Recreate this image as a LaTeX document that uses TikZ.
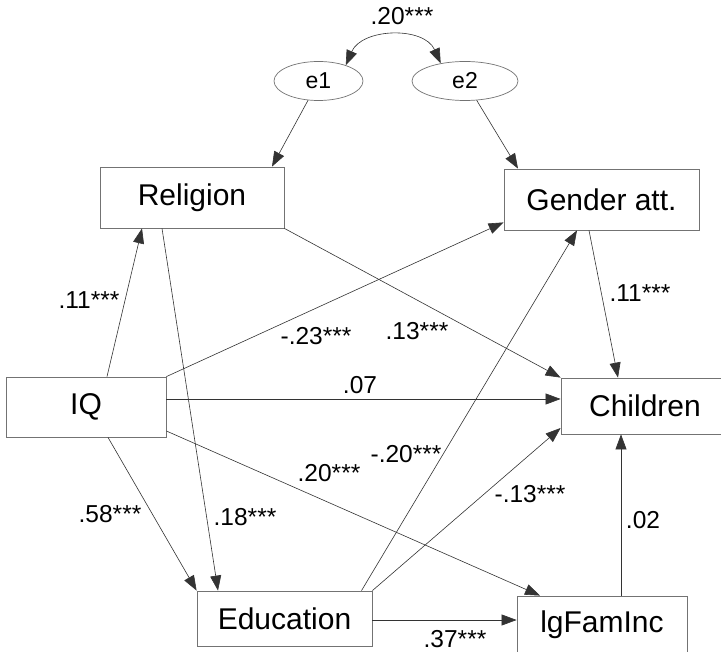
\documentclass[tikz,border=0pt]{standalone}
\usepackage{fontspec}
\setmainfont{Liberation Sans}
\usetikzlibrary{arrows.meta,shapes.geometric}
\begin{document}
\begin{tikzpicture}[x=1pt,y=-1pt,
  box/.style={draw=black!55,line width=0.8pt,rectangle,inner sep=0pt,font=\fontsize{30}{32}\selectfont},
  err/.style={draw=black!55,line width=0.7pt,ellipse,inner sep=0pt,font=\fontsize{23}{25}\selectfont},
  lab/.style={inner sep=0pt,font=\fontsize{24.5}{26}\selectfont},
  conn/.style={draw=black!80,line width=0.6pt,-{Triangle[length=15pt,width=11pt]}},
  biconn/.style={draw=black!80,line width=0.6pt,{Triangle[length=15pt,width=11pt]}-{Triangle[length=15pt,width=11pt]}}]
\useasboundingbox[fill=white] (0,0) rectangle (721,652);
% nodes
\node[box,minimum width=184pt,minimum height=61pt] (Religion) at (192,197.5) {Religion};
\node[box,minimum width=195pt,minimum height=61pt] (Gender) at (601.5,199.5) {Gender att.};
\node[box,minimum width=160pt,minimum height=60pt] (IQ) at (86,407) {IQ};
\node[box,minimum width=168pt,minimum height=56pt] (Children) at (645,406) {Children};
\node[box,minimum width=175pt,minimum height=55pt] (Education) at (284.5,618.5) {Education};
\node[box,minimum width=170pt,minimum height=58pt] (Inc) at (602,625) {lgFamInc};
\node[err,minimum width=89pt,minimum height=39pt] (e1) at (318.5,81) {e1};
\node[err,minimum width=106pt,minimum height=39pt] (e2) at (465,81) {e2};
% connectors
\draw[biconn] (e1.30) .. controls (362,28) and (424,26) .. (e2.144);
\draw[conn] (e1) -- ([xshift=80]Religion.north);
\draw[conn] (e2) -- ([xshift=-83.5]Gender.north);
\draw[conn] ([xshift=21]IQ.north) -- ([xshift=-50]Religion.south);
\draw[conn] (IQ.north east) -- ([yshift=8]Gender.south west);
\draw[conn] ([xshift=-30]Religion.south) -- ([xshift=-66.5]Education.north);
\draw[conn] (Religion.south east) -- (Children.north west);
\draw[conn] ([xshift=-12.5]Gender.south) -- ([xshift=-27]Children.north);
\draw[conn] ([yshift=8]IQ.east) -- ([yshift=8]IQ.east -| Children.west);
\draw[conn] ([yshift=-24]IQ.east) -- ([xshift=-62]Inc.north);
\draw[conn] ([xshift=22]IQ.south) -- (Education.north west);
\draw[conn] ([xshift=77]Education.north) -- ([xshift=-24.5]Gender.south);
\draw[conn] (Education.north east) -- ([yshift=-22]Children.west);
\draw[conn] ([yshift=-1.5]Education.east) -- ([yshift=-1.5]Education.east -| Inc.west);
\draw[conn] ([xshift=19]Inc.north) -- ([xshift=19]Inc.north |- Children.south);
% labels
\node[lab] (l1) at (402,16) {.20***};
\node[lab] (l2) at (89,300) {.11***};
\node[lab] (l3) at (316,336) {-.23***};
\node[lab] (l4) at (417,331) {.13***};
\node[lab] (l5) at (640,293) {.11***};
\node[lab] (l6) at (360,385) {.07};
\node[lab] (l7) at (329,473) {.20***};
\node[lab] (l8) at (406,454) {-.20***};
\node[lab] (l9) at (530,494) {-.13***};
\node[lab] (l10) at (643,520) {.02};
\node[lab] (l11) at (110,514) {.58***};
\node[lab] (l12) at (245,517) {.18***};
\node[lab] (l13) at (455,639) {.37***};
\end{tikzpicture}
\end{document}
